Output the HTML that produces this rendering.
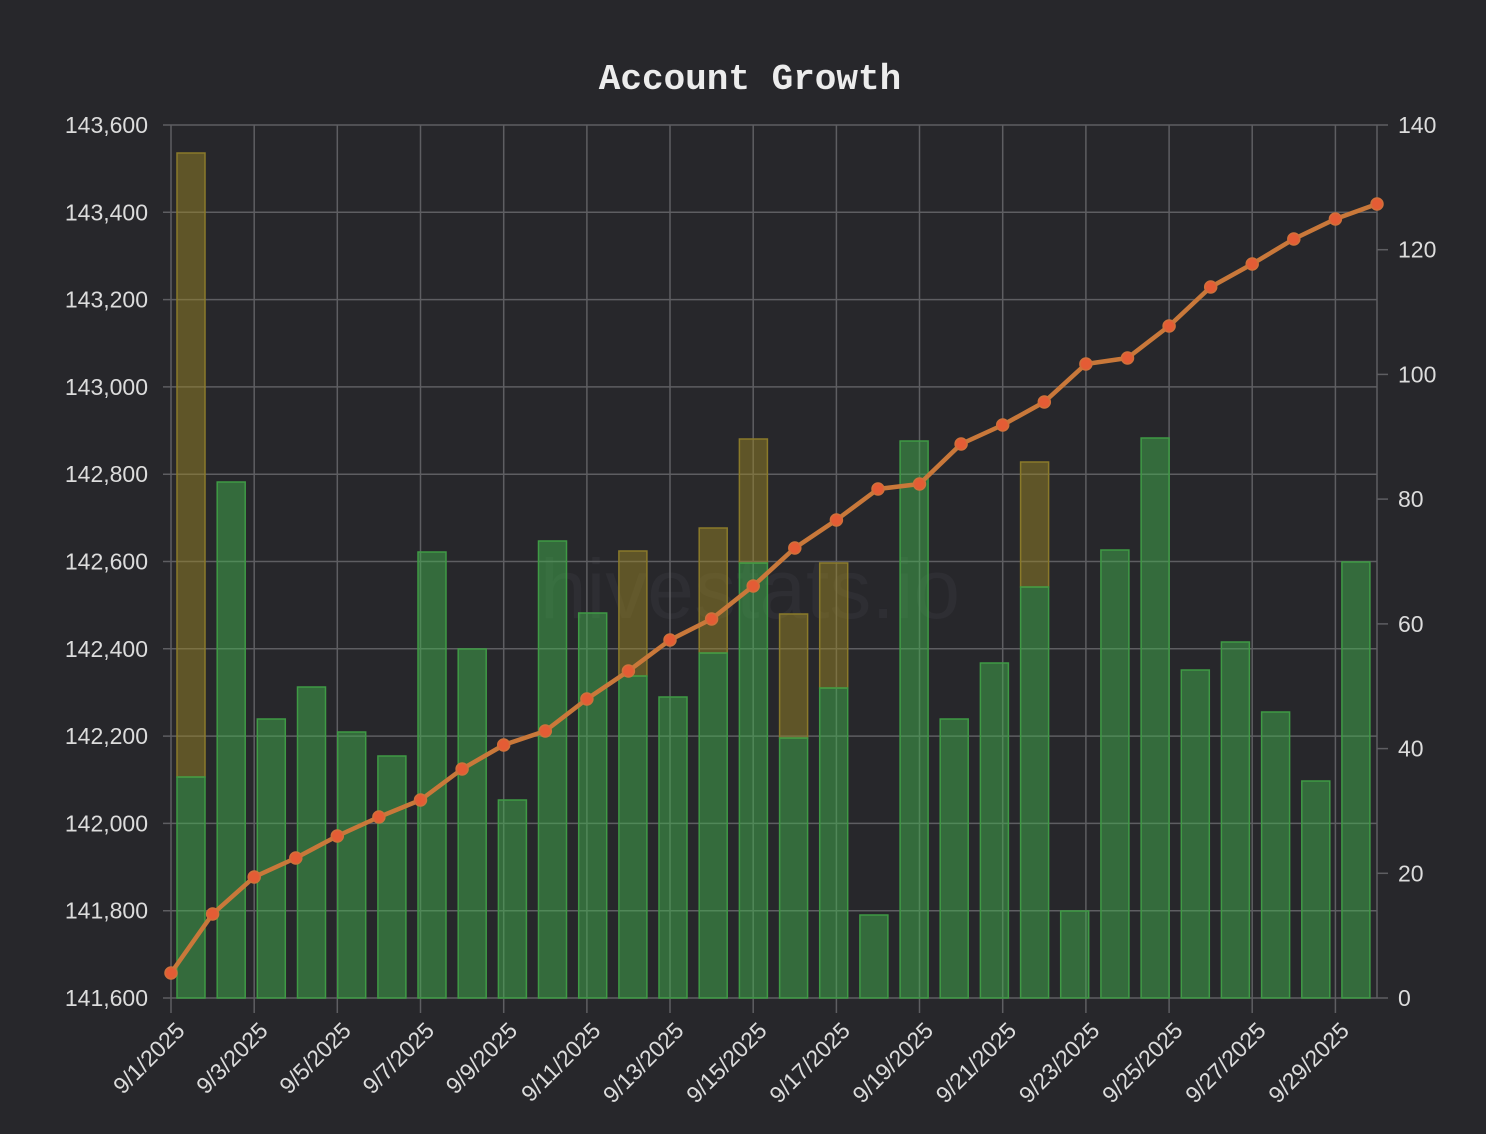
<!DOCTYPE html>
<html><head><meta charset="utf-8"><style>
html,body{margin:0;padding:0;background:#27272b;}
svg{display:block;font-family:"Liberation Sans",sans-serif;}
</style></head><body>
<svg width="1486" height="1134" viewBox="0 0 1486 1134" xmlns="http://www.w3.org/2000/svg">
<rect width="1486" height="1134" fill="#27272b"/>
<text x="750" y="89" text-anchor="middle" font-family="Liberation Mono, monospace" font-weight="bold" font-size="36" fill="#ececec">Account Growth</text>
<text x="750" y="618" text-anchor="middle" font-size="84" fill="#2e2e33">hivestats.io</text>
<g stroke="#5e5e62" stroke-width="1.5">
<line x1="163" y1="125" x2="1388" y2="125"/><line x1="163" y1="212.3" x2="1377" y2="212.3"/><line x1="163" y1="299.6" x2="1377" y2="299.6"/><line x1="163" y1="386.9" x2="1377" y2="386.9"/><line x1="163" y1="474.2" x2="1377" y2="474.2"/><line x1="163" y1="561.5" x2="1377" y2="561.5"/><line x1="163" y1="648.8" x2="1377" y2="648.8"/><line x1="163" y1="736.1" x2="1377" y2="736.1"/><line x1="163" y1="823.4" x2="1377" y2="823.4"/><line x1="163" y1="910.7" x2="1377" y2="910.7"/><line x1="163" y1="998" x2="1388" y2="998"/>
<line x1="1377" y1="873.3" x2="1388" y2="873.3"/><line x1="1377" y1="748.6" x2="1388" y2="748.6"/><line x1="1377" y1="623.9" x2="1388" y2="623.9"/><line x1="1377" y1="499.1" x2="1388" y2="499.1"/><line x1="1377" y1="374.4" x2="1388" y2="374.4"/><line x1="1377" y1="249.7" x2="1388" y2="249.7"/>
<line x1="171" y1="125" x2="171" y2="1013"/><line x1="254.2" y1="125" x2="254.2" y2="1013"/><line x1="337.3" y1="125" x2="337.3" y2="1013"/><line x1="420.5" y1="125" x2="420.5" y2="1013"/><line x1="503.7" y1="125" x2="503.7" y2="1013"/><line x1="586.9" y1="125" x2="586.9" y2="1013"/><line x1="670" y1="125" x2="670" y2="1013"/><line x1="753.2" y1="125" x2="753.2" y2="1013"/><line x1="836.4" y1="125" x2="836.4" y2="1013"/><line x1="919.5" y1="125" x2="919.5" y2="1013"/><line x1="1002.7" y1="125" x2="1002.7" y2="1013"/><line x1="1085.9" y1="125" x2="1085.9" y2="1013"/><line x1="1169.1" y1="125" x2="1169.1" y2="1013"/><line x1="1252.2" y1="125" x2="1252.2" y2="1013"/><line x1="1335.4" y1="125" x2="1335.4" y2="1013"/><line x1="1377" y1="125" x2="1377" y2="998"/>
</g>
<g fill="rgba(151,131,37,0.5)" stroke="#8a7a2a" stroke-width="1.5">
<rect x="177" y="153" width="28" height="624"/>
<rect x="618.9" y="551" width="28" height="125"/>
<rect x="699.2" y="528" width="28" height="125"/>
<rect x="739.4" y="439" width="28" height="124"/>
<rect x="779.6" y="614" width="28" height="124"/>
<rect x="819.7" y="563" width="28" height="125"/>
<rect x="1020.6" y="462" width="28" height="125"/>
</g>
<g fill="rgba(65,175,77,0.5)" stroke="#3f9a45" stroke-width="1.5">
<rect x="177" y="777" width="28" height="221"/>
<rect x="217.2" y="482" width="28" height="516"/>
<rect x="257.3" y="719" width="28" height="279"/>
<rect x="297.5" y="687" width="28" height="311"/>
<rect x="337.7" y="732" width="28" height="266"/>
<rect x="377.9" y="756" width="28" height="242"/>
<rect x="418" y="552" width="28" height="446"/>
<rect x="458.2" y="649" width="28" height="349"/>
<rect x="498.4" y="800" width="28" height="198"/>
<rect x="538.5" y="541" width="28" height="457"/>
<rect x="578.7" y="613" width="28" height="385"/>
<rect x="618.9" y="676" width="28" height="322"/>
<rect x="659" y="697" width="28" height="301"/>
<rect x="699.2" y="653" width="28" height="345"/>
<rect x="739.4" y="563" width="28" height="435"/>
<rect x="779.6" y="738" width="28" height="260"/>
<rect x="819.7" y="688" width="28" height="310"/>
<rect x="859.9" y="915" width="28" height="83"/>
<rect x="900.1" y="441" width="28" height="557"/>
<rect x="940.2" y="719" width="28" height="279"/>
<rect x="980.4" y="663" width="28" height="335"/>
<rect x="1020.6" y="587" width="28" height="411"/>
<rect x="1060.7" y="911" width="28" height="87"/>
<rect x="1100.9" y="550" width="28" height="448"/>
<rect x="1141.1" y="438" width="28" height="560"/>
<rect x="1181.3" y="670" width="28" height="328"/>
<rect x="1221.4" y="642" width="28" height="356"/>
<rect x="1261.6" y="712" width="28" height="286"/>
<rect x="1301.8" y="781" width="28" height="217"/>
<rect x="1341.9" y="562" width="28" height="436"/>
</g>
<polyline fill="none" stroke="#c9783a" stroke-width="4.5" stroke-linejoin="round" points="171,973 212.6,914 254.2,877 295.8,858 337.3,836 378.9,817 420.5,800 462.1,769 503.7,745 545.3,731 586.9,699 628.4,671 670,640 711.6,619 753.2,586 794.8,548 836.4,520 878,489 919.5,484 961.1,444 1002.7,425 1044.3,402 1085.9,364 1127.5,358 1169.1,326 1210.7,287 1252.2,264 1293.8,239 1335.4,219 1377,204"/>
<g fill="#e45c35" stroke="#d0703a" stroke-width="1.5">
<circle cx="171" cy="973" r="6"/><circle cx="212.6" cy="914" r="6"/><circle cx="254.2" cy="877" r="6"/><circle cx="295.8" cy="858" r="6"/><circle cx="337.3" cy="836" r="6"/><circle cx="378.9" cy="817" r="6"/><circle cx="420.5" cy="800" r="6"/><circle cx="462.1" cy="769" r="6"/><circle cx="503.7" cy="745" r="6"/><circle cx="545.3" cy="731" r="6"/><circle cx="586.9" cy="699" r="6"/><circle cx="628.4" cy="671" r="6"/><circle cx="670" cy="640" r="6"/><circle cx="711.6" cy="619" r="6"/><circle cx="753.2" cy="586" r="6"/><circle cx="794.8" cy="548" r="6"/><circle cx="836.4" cy="520" r="6"/><circle cx="878" cy="489" r="6"/><circle cx="919.5" cy="484" r="6"/><circle cx="961.1" cy="444" r="6"/><circle cx="1002.7" cy="425" r="6"/><circle cx="1044.3" cy="402" r="6"/><circle cx="1085.9" cy="364" r="6"/><circle cx="1127.5" cy="358" r="6"/><circle cx="1169.1" cy="326" r="6"/><circle cx="1210.7" cy="287" r="6"/><circle cx="1252.2" cy="264" r="6"/><circle cx="1293.8" cy="239" r="6"/><circle cx="1335.4" cy="219" r="6"/><circle cx="1377" cy="204" r="6"/>
</g>
<g fill="#dcdcdc" font-size="23" text-anchor="end">
<text x="148" y="133">143,600</text><text x="148" y="220.3">143,400</text><text x="148" y="307.6">143,200</text><text x="148" y="394.9">143,000</text><text x="148" y="482.2">142,800</text><text x="148" y="569.5">142,600</text><text x="148" y="656.8">142,400</text><text x="148" y="744.1">142,200</text><text x="148" y="831.4">142,000</text><text x="148" y="918.7">141,800</text><text x="148" y="1006">141,600</text>
</g>
<g fill="#dcdcdc" font-size="23">
<text x="1398" y="133">140</text><text x="1398" y="257.7">120</text><text x="1398" y="382.4">100</text><text x="1398" y="507.1">80</text><text x="1398" y="631.9">60</text><text x="1398" y="756.6">40</text><text x="1398" y="881.3">20</text><text x="1398" y="1006">0</text>
</g>
<g fill="#dcdcdc" font-size="23" text-anchor="end">
<text transform="translate(186,1032) rotate(-45)">9/1/2025</text>
<text transform="translate(269.2,1032) rotate(-45)">9/3/2025</text>
<text transform="translate(352.3,1032) rotate(-45)">9/5/2025</text>
<text transform="translate(435.5,1032) rotate(-45)">9/7/2025</text>
<text transform="translate(518.7,1032) rotate(-45)">9/9/2025</text>
<text transform="translate(601.9,1032) rotate(-45)">9/11/2025</text>
<text transform="translate(685,1032) rotate(-45)">9/13/2025</text>
<text transform="translate(768.2,1032) rotate(-45)">9/15/2025</text>
<text transform="translate(851.4,1032) rotate(-45)">9/17/2025</text>
<text transform="translate(934.5,1032) rotate(-45)">9/19/2025</text>
<text transform="translate(1017.7,1032) rotate(-45)">9/21/2025</text>
<text transform="translate(1100.9,1032) rotate(-45)">9/23/2025</text>
<text transform="translate(1184.1,1032) rotate(-45)">9/25/2025</text>
<text transform="translate(1267.2,1032) rotate(-45)">9/27/2025</text>
<text transform="translate(1350.4,1032) rotate(-45)">9/29/2025</text>
</g>
</svg>
</body></html>
